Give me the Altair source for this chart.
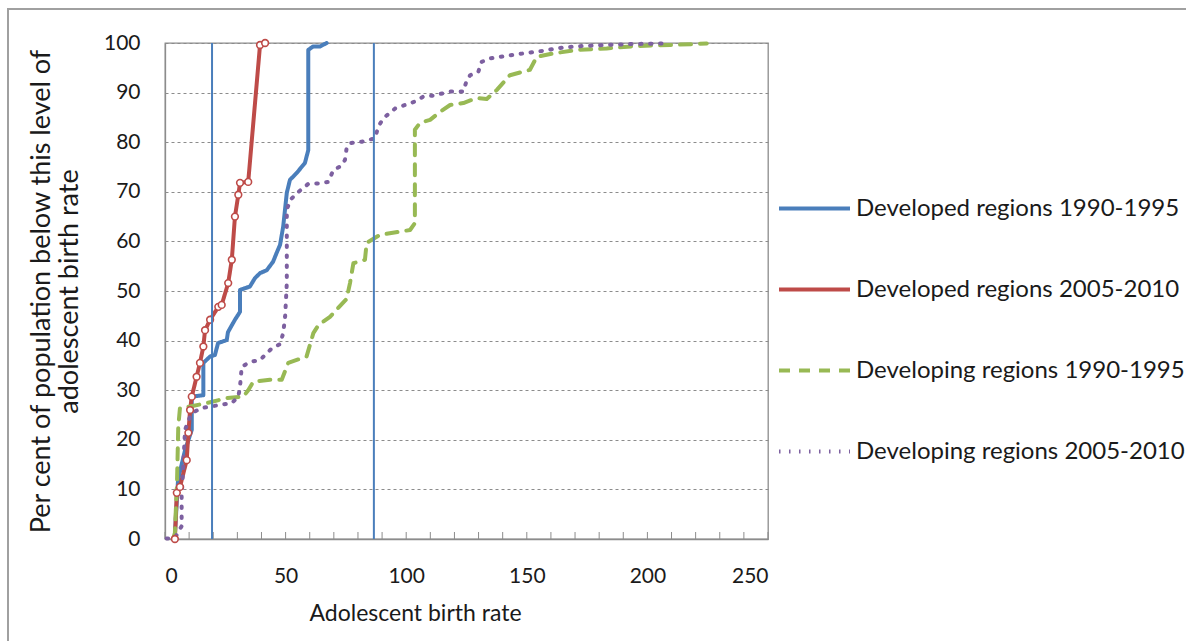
import altair as alt
import pandas as pd

# ---- data ----
series_names = ["Developed regions 1990-1995", "Developed regions 2005-2010",
                "Developing regions 1990-1995", "Developing regions 2005-2010"]

blue_x = [4, 5.4, 8.3, 11.1, 11.1, 15.9, 15.9, 18.7, 20.7, 22, 25.6, 26.1, 29, 31.1, 31.1, 35.2,
          37.3, 39.4, 42.2, 44.8, 46.3, 47.7, 49, 50.5, 51.8, 54.6, 58, 59.4, 59.4, 61.4, 64.3, 67]
blue_y = [0, 11.9, 17.9, 22, 28.7, 29, 35.5, 36.8, 37.1, 39.5, 40.1, 41.7, 44.2, 45.8, 50.2, 50.9,
          52.6, 53.6, 54.2, 55.9, 57.7, 59.3, 63, 69.8, 72.4, 73.8, 75.8, 78.4, 98.6, 99.3, 99.3, 100]

red_x = [4.1, 4.9, 6.2, 9, 9.7, 10.4, 11.1, 13.1, 14.5, 15.9, 16.6, 18.7, 22.1, 23.5, 26.2, 27.7,
         29, 30.4, 31.1, 34.5, 39.4, 41.5]
red_y = [0, 9.3, 10.5, 15.9, 21.4, 26, 28.7, 32.7, 35.5, 38.8, 42.1, 44.2, 46.8, 47.2, 51.6, 56.3,
         65, 69.4, 71.8, 72, 99.6, 100]

green_x = [3.3, 4.1, 5, 5.5, 6.2, 10.4, 17.3, 25.6, 32.5, 34.5, 36.6, 43.5, 48.4, 51.1, 58.7, 61.5,
           63.6, 68.4, 75.3, 76.7, 78.1, 82.9, 83.6, 89.1, 101.6, 103.6, 103.6, 105.7, 109.9, 114,
           118.2, 123.7, 129.2, 133.4, 137.5, 143, 151.3, 154.1, 161, 170.7, 183.1, 195.6, 209.3, 224.6]
green_y = [0, 1.2, 11.9, 22.6, 26.4, 26.7, 27.4, 28.4, 28.7, 30, 31.7, 32.1, 32.1, 35.5, 36.8, 41.5,
           43.1, 44.8, 48.4, 51.6, 55.6, 56.3, 59.7, 61.3, 62.3, 63.7, 82.5, 83.9, 84.5, 86.1,
           87.5, 87.9, 88.9, 88.7, 90.5, 93.5, 94.6, 97.2, 97.9, 98.6, 98.9, 99.4, 99.6, 99.9]

purple_x = [0.7, 4.1, 6.9, 6.9, 7.5, 8.3, 10.4, 12.4, 15.2, 20, 27.7, 30.4, 31.1, 31.8, 35.2, 39.4,
            44.2, 47.7, 49, 49.8, 50.5, 50.5, 50.5, 51.8, 54.6, 59.4, 63.6, 67.7, 69.8, 72.6, 74.6,
            75.3, 76.7, 81.6, 87.1, 88.4, 90.5, 95.4, 99.5, 103.6, 107.1, 111.2, 118.2, 123.7,
            125.1, 126.5, 129.9, 131.3, 134.7, 138.9, 147.2, 156.2, 165.1, 173.4, 181.7, 194.2, 207.3]
purple_y = [0.1, 0.2, 2.6, 8.5, 13.9, 22, 24.7, 25.7, 26.4, 26.8, 27.4, 28.7, 30.7, 34.7, 35.7, 36.1,
            38.4, 39.3, 41.5, 44.8, 51.6, 59.6, 66.3, 68.3, 69.7, 71.6, 71.7, 72, 74.4, 75.1, 76.4,
            78.8, 79.8, 80.1, 80.8, 83.1, 84.8, 86.8, 87.5, 88.2, 89.2, 89.4, 90.2, 90.2,
            92.5, 93.5, 94.2, 96.2, 96.9, 97.2, 97.8, 98.4, 99.1, 99.4, 99.6, 99.8, 99.9]

vline_x = [19.5, 86.6]
x_tick_values = list(range(0, 251, 10))
x_label_values = [0, 50, 100, 150, 200, 250]
y_tick_values = list(range(0, 101, 10))

colors = ["#4a7ebb", "#be4b48", "#98b954", "#7d60a0"]
dashes = [[1, 0], [1, 0], [11, 9], [1.5, 8.5]]

rows = []
for name, xs, ys in zip(series_names, [blue_x, red_x, green_x, purple_x],
                        [blue_y, red_y, green_y, purple_y]):
    for i, (xv, yv) in enumerate(zip(xs, ys)):
        rows.append({"series": name, "x": xv, "y": yv, "i": i})
df = pd.DataFrame(rows)
red_df = df[df.series == series_names[1]]

vl_df = pd.DataFrame({"x": vline_x, "y0": [0] * len(vline_x), "y1": [100] * len(vline_x)})
tick_df = pd.DataFrame({"t": x_tick_values})

PW, PH = 603, 496
FONT = "Lato"

xscale = alt.Scale(domain=[0, 250], nice=False)
yscale = alt.Scale(domain=[0, 100], nice=False)

legend_kw = dict(title=None, orient="none", legendX=612, legendY=128,
                 symbolType="stroke", symbolSize=5041, symbolStrokeWidth=4,
                 labelFontSize=24, labelFont=FONT, labelColor="#1a1a1a",
                 labelLimit=500, rowPadding=31, labelOffset=4)

lines = alt.Chart(df).mark_line(strokeWidth=4, strokeCap="round", strokeJoin="round").encode(
    x=alt.X("x:Q", scale=xscale,
            axis=alt.Axis(values=x_label_values, title="Adolescent birth rate", ticks=False,
                          grid=False, labelPadding=26, titlePadding=16,
                          titleX=250, titleAlign="center",
                          domainColor="#8c8c8c", domainWidth=1.3)),
    y=alt.Y("y:Q", scale=yscale,
            axis=alt.Axis(values=y_tick_values,
                          title=["Per cent of population below this level of", "adolescent birth rate"],
                          ticks=False, grid=True, gridDash=[3, 3], gridColor="#8c8c8c",
                          gridWidth=1, labelPadding=25, titlePadding=20,
                          titleFontSize=27, titleLineHeight=28,
                          domainColor="#8c8c8c", domainWidth=1.3)),
    color=alt.Color("series:N", scale=alt.Scale(domain=series_names, range=colors),
                    legend=alt.Legend(**legend_kw)),
    strokeDash=alt.StrokeDash("series:N", scale=alt.Scale(domain=series_names, range=dashes),
                              legend=alt.Legend(**legend_kw)),
    detail="series:N",
    order="i:Q",
)

red_pts = alt.Chart(red_df).mark_point(shape="circle", filled=True, fill="white", stroke="#be4b48",
                                       strokeWidth=1.6, size=45, opacity=1).encode(
    x=alt.X("x:Q", scale=xscale), y=alt.Y("y:Q", scale=yscale))

vlines = alt.Chart(vl_df).mark_rule(color="#4a7ebb", strokeWidth=2).encode(
    x=alt.X("x:Q", scale=xscale), y=alt.Y("y0:Q", scale=yscale), y2="y1:Q")

minor_ticks = alt.Chart(tick_df).mark_rule(color="#8c8c8c", strokeWidth=1).encode(
    x=alt.X("t:Q", scale=xscale), y=alt.value(PH - 7), y2=alt.value(PH))

frame = alt.Chart(tick_df).mark_rect(fill=None, stroke="#a0a0a0", strokeWidth=1.5).encode(
    x=alt.value(-157), x2=alt.value(1040), y=alt.value(-34), y2=alt.value(620))

chart = alt.layer(frame, minor_ticks, lines, red_pts, vlines).properties(
    width=PW, height=PH,
    background="white",
    autosize=alt.AutoSizeParams(type="none"),
    padding={"left": 165, "top": 43, "right": 418, "bottom": 102},
).configure_view(stroke="#8c8c8c", strokeWidth=1.3).configure_axis(
    labelFont=FONT, labelFontSize=21, labelColor="#1a1a1a",
    titleFont=FONT, titleFontSize=23, titleColor="#1a1a1a", titleFontWeight="normal",
    titleLineHeight=28,
)

chart.save("out.html", embed_options={"renderer": "svg", "actions": False})
